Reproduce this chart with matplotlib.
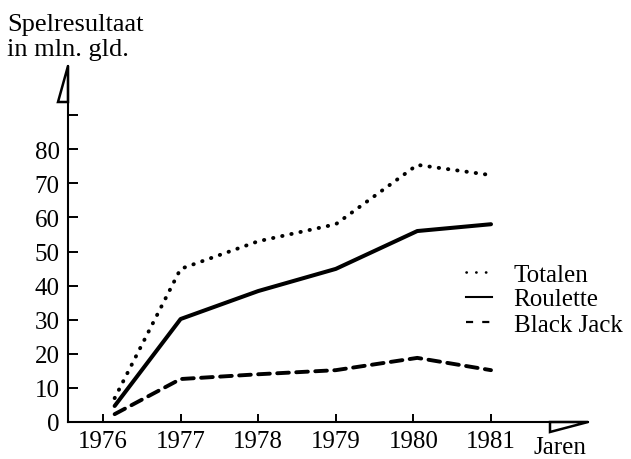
import matplotlib
matplotlib.use("Agg")
import matplotlib.pyplot as plt
from matplotlib.lines import Line2D
from matplotlib.patches import Polygon

# values (mln. gld.)
years = [1976.15, 1977, 1978, 1979, 1980.05, 1981]
totalen = [7.0, 44.9, 53.0, 58.0, 75.4, 72.4]
roulette = [4.7, 30.2, 38.4, 44.9, 56.0, 58.0]
black_jack = [2.3, 12.6, 14.0, 15.2, 18.8, 15.2]
year_ticks = [1976, 1977, 1978, 1979, 1980, 1981]
y_ticks = [0, 10, 20, 30, 40, 50, 60, 70, 80, 90]
y_labels = ["0", "10", "20", "30", "40", "50", "60", "70", "80", ""]

plt.rcParams["font.family"] = ["Liberation Serif", "DejaVu Serif"]
FS = 18

fig = plt.figure(figsize=(6.31, 4.60), dpi=100)
W, H = 631, 460
x0, x1, y0, y1 = 68, 588, 423, 67
ax = fig.add_axes([x0 / W, 1 - y0 / H, (x1 - x0) / W, (y0 - y1) / H])

px_year = 77.6
px_unit = 3.41
ax.set_xlim(1976 + (x0 - 103) / px_year, 1976 + (x1 - 103) / px_year)
ax.set_ylim(0, (y0 - y1) / px_unit)

ax.plot(years, totalen, color="black", lw=2.8, linestyle=(0, (0.1, 2.3)),
        dash_capstyle="round", solid_capstyle="round")
ax.plot(years, roulette, color="black", lw=2.9, solid_capstyle="round")
ax.plot(years, black_jack, color="black", lw=2.8, linestyle=(0, (3, 1.9)),
        dash_capstyle="round")

for s in ["top", "right"]:
    ax.spines[s].set_visible(False)
for s in ["left", "bottom"]:
    ax.spines[s].set_linewidth(1.5)

ax.set_xticks(year_ticks)
ax.set_xticklabels([str(y) for y in year_ticks])
ax.set_yticks(y_ticks)
ax.set_yticklabels(y_labels)
ax.tick_params(axis="y", direction="in", length=7, width=1.4, pad=6, labelsize=FS)
ax.tick_params(axis="x", direction="in", length=6, width=1.4, pad=6, labelsize=FS)

# half arrow heads on the axes
ax.add_patch(Polygon([(0, 1), (-10 / (x1 - x0), 1 - 36 / (y0 - y1)), (0, 1 - 36 / (y0 - y1))],
                     closed=True, fill=False, lw=1.8, edgecolor="black",
                     transform=ax.transAxes, clip_on=False, joinstyle="miter"))
ax.add_patch(Polygon([(1, 0), (1 - 38 / (x1 - x0), -10 / (y0 - y1)), (1 - 38 / (x1 - x0), 0)],
                     closed=True, fill=False, lw=1.8, edgecolor="black",
                     transform=ax.transAxes, clip_on=False, joinstyle="miter"))

fig.text(560 / W, 1 - 454 / H, "Jaren", fontsize=FS, ha="center", va="baseline")
fig.text(7 / W, 1 - 14 / H, "Spelresultaat\nin mln. gld.", fontsize=FS + 1,
         ha="left", va="top", linespacing=1.2)

handles = [
    Line2D([], [], color="black", lw=1.9, linestyle=(0, (0.1, 3.6)), dash_capstyle="round"),
    Line2D([], [], color="black", lw=1.5),
    Line2D([], [], color="black", lw=1.6, linestyle=(0, (3.2, 4.1))),
]
ax.legend(handles, ["Totalen", "Roulette", "Black Jack"], loc="upper left",
          bbox_to_anchor=(466 / W, 1 - 264 / H), bbox_transform=fig.transFigure,
          frameon=False, fontsize=FS, handlelength=1.05, handletextpad=0.85,
          labelspacing=0.1, borderpad=0, borderaxespad=0)

fig.savefig("out.png", dpi=100)
